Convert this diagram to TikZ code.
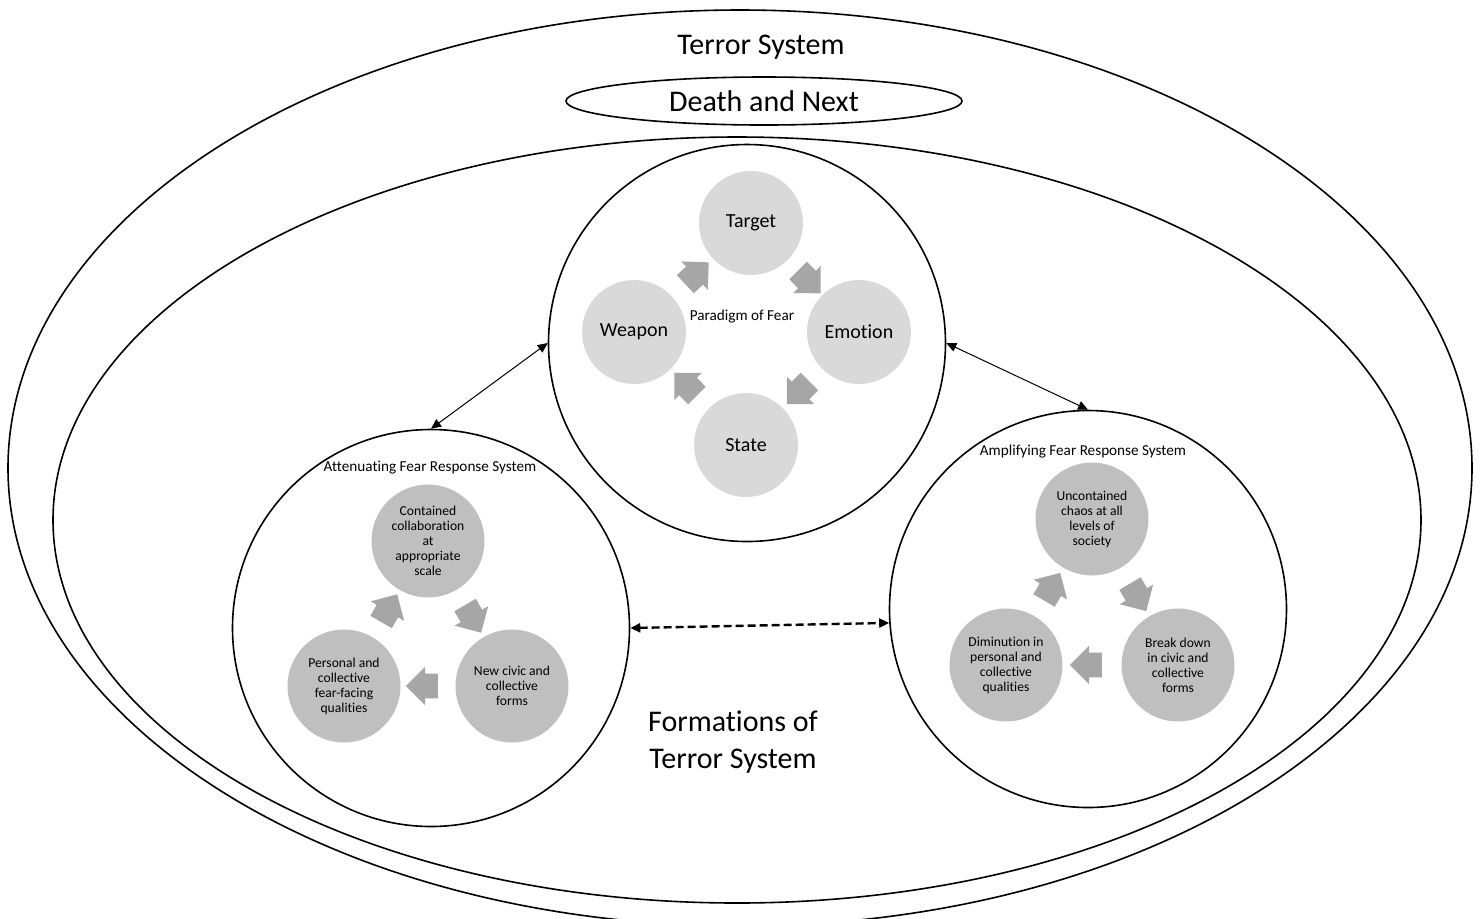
\documentclass[tikz,border=0pt]{standalone}
\usepackage{fontspec}
\setmainfont{Carlito}[Ligatures=NoCommon]
\usetikzlibrary{shapes.geometric,shapes.arrows,arrows.meta}
\definecolor{paleball}{HTML}{D9D9D9}
\definecolor{greyball}{HTML}{BFBFBF}
\definecolor{blockgrey}{HTML}{A6A6A6}

\begin{document}
\begin{tikzpicture}[x=0.5pt, y=-0.5pt,
    ring/.style={circle, draw, line width=0.8pt, minimum size=198.5pt, inner sep=0pt},
    ball/.style={circle, fill=paleball, minimum size=52pt, inner sep=0pt, font=\fontsize{10}{12}\selectfont},
    smallball/.style={circle, fill=greyball, minimum size=56.5pt, inner sep=0pt, align=center, font=\fontsize{6.8}{7.5}\selectfont},
    blockarrow/.style={single arrow, fill=blockgrey, inner xsep=1pt, inner ysep=6pt, minimum height=16pt, single arrow head extend=3.5pt, sloped, allow upside down},
    caption/.style={font=\fontsize{7.6}{9}\selectfont},
    link/.style={{Triangle[length=5pt,width=4.5pt]}-{Triangle[length=5pt,width=4.5pt]}, line width=0.5pt},
  ]
    \useasboundingbox (0,0) rectangle (1480,918);
    % the two systems round everything
    \draw [line width=0.8pt] (740,468) ellipse [x radius=732, y radius=458];
    \draw [line width=0.8pt] (737,520) ellipse [x radius=684, y radius=383];
    \node[font=\fontsize{15}{18}\selectfont] (terror) at (761,47) {Terror System};
    \node[ellipse, draw, line width=0.8pt, minimum width=198pt, minimum height=24pt, inner sep=0pt, font=\fontsize{15}{18}\selectfont] (death) at (764,101) {Death and Next};
    \node[align=center, font=\fontsize{15}{18.5}\selectfont] (formations) at (733,742) {Formations of\\Terror System};

    % paradigm of fear
    \node[ring] (paradigm) at (747,343) {};
    \node[caption] at (742,317) {Paradigm of Fear};
    \node[ball] (target) at (751,223) {Target};
    \node[ball] (weapon) at (634,332) {Weapon};
    \node[ball] (emotion) at (859,332) {Emotion};
    \node[ball] (state) at (746,445) {State};

    % response systems
    \node[ring] (atten) at (431,628) {};
    \node[caption] at (430,468) {Attenuating Fear Response System};
    \node[smallball] (contained) at (428,541) {Contained\\collaboration\\at\\appropriate\\scale};
    \node[smallball] (personal) at (344,686) {Personal and\\collective\\fear-facing\\qualities};
    \node[smallball] (newcivic) at (512,686) {New civic and\\collective\\forms};

    \node[ring] (amplify) at (1088,609) {};
    \node[caption] at (1083,452) {Amplifying Fear Response System};
    \node[smallball] (chaos) at (1092,519) {Uncontained\\chaos at all\\levels of\\society};
    \node[smallball] (diminution) at (1006,665) {Diminution in\\personal and\\collective\\qualities};
    \node[smallball] (breakdown) at (1178,665) {Break down\\in civic and\\collective\\forms};

    \foreach \from/\to in {weapon/target, target/emotion, emotion/state, state/weapon,
        contained/newcivic, newcivic/personal, personal/contained,
        chaos/breakdown, breakdown/diminution, diminution/chaos}
        \path (\from) -- node[blockarrow] {} (\to);

    \draw[link] (paradigm.west) -- (atten.north);
    \draw[link] (paradigm.east) -- (amplify.north);
    \draw[link, line width=1.2pt, dash pattern=on 4pt off 2pt] (atten.east) -- (amplify.184);
  \end{tikzpicture}
\end{document}
